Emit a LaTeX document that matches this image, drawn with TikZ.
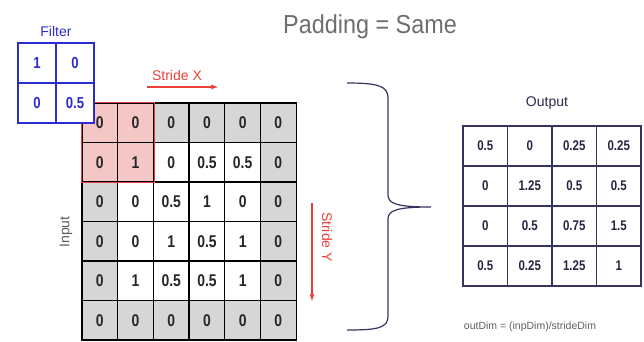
\documentclass[tikz,border=0pt]{standalone}
\usepackage{fontspec}
\setmainfont{Liberation Sans}
\newfontfamily\narrowfont[FakeStretch=0.82]{Liberation Sans}
\usetikzlibrary{fit}
\definecolor{padgray}{HTML}{D6D6D6}
\definecolor{winpink}{HTML}{F5C6C6}
\definecolor{winred}{HTML}{E8413C}
\definecolor{filtblue}{HTML}{2B2BD0}
\definecolor{outline}{HTML}{34345E}
\definecolor{txtgray}{HTML}{5E5E5E}

\begin{document}
\begin{tikzpicture}[
  x=1pt,y=-1pt,
  incell/.style={draw=black,line width=1.3pt,minimum width=35.7pt,minimum height=39.5pt,inner sep=0pt,
    font=\narrowfont\bfseries\fontsize{17}{17}\selectfont,text=black!85},
  filtcell/.style={draw=filtblue,fill=white,line width=1.3pt,minimum width=38pt,minimum height=40pt,inner sep=0pt,
    font=\narrowfont\bfseries\fontsize{16}{16}\selectfont,text=filtblue},
  outcell/.style={draw=outline,line width=1.2pt,minimum width=44.5pt,minimum height=40pt,inner sep=0pt,
    font=\narrowfont\bfseries\fontsize{14}{14}\selectfont,text=outline!70!black},
  winbox/.style={draw=winred,line width=1pt,inner sep=0pt},
  label/.style={font=\fontsize{14}{14}\selectfont,text=txtgray},
  stridelab/.style={font=\fontsize{14}{14}\selectfont,text=winred},
  stridearr/.style={draw=winred,line width=1.3pt,->,>=latex},
  brace/.style={draw=outline,line width=1.2pt},
  ]
  \useasboundingbox (0,0) rectangle (644,341);
  % title
  \node[font=\fontsize{26}{26}\selectfont,text=txtgray!90,anchor=base,
    inner sep=0pt] (title) at (370,33) {\addfontfeatures{FakeStretch=0.9}Padding = Same};
  % input with padding
  \foreach \row [count=\r] in {{0,0,0,0,0,0},{0,1,0,0.5,0.5,0},{0,0,0.5,1,0,0},
      {0,0,1,0.5,1,0},{0,1,0.5,0.5,1,0},{0,0,0,0,0,0}}
    \foreach \v [count=\c] in \row {
      \pgfmathtruncatemacro\pad{max(\r==1,\r==6,\c==1,\c==6)}
      \pgfmathtruncatemacro\win{(\r<3)*(\c<3)}
      \ifnum\win=1 \def\cellfill{winpink}\else
        \ifnum\pad=1 \def\cellfill{padgray}\else\def\cellfill{white}\fi\fi
      \node[incell,fill=\cellfill] (i\r\c) at ({82+35.7*(\c-0.5)},{103+39.5*(\r-0.5)}) {\v};
    }
  \node[winbox,fit=(i11)(i22)] (win) {};
  \node[label,rotate=90] (inlab) at (66,232) {Input};
  % filter
  \foreach \row [count=\r] in {{1,0},{0,0.5}}
    \foreach \v [count=\c] in \row
      \node[filtcell] (f\r\c) at ({18+38*(\c-0.5)},{43+40*(\r-0.5)}) {\v};
  \node[label,text=filtblue] (filtlab) at (56,31) {Filter};
  % strides
  \node[stridelab] (sxlab) at (177,75) {Stride X};
  \coordinate (sxa) at (147,87);
  \coordinate (sxb) at (218,87);
  \draw[stridearr] (sxa) -- (sxb);
  \node[stridelab,rotate=-90] (sylab) at (327,237) {Stride Y};
  \coordinate (sya) at (312,203);
  \coordinate (syb) at (312,301);
  \draw[stridearr] (sya) -- (syb);
  % brace
  \coordinate (btop) at (347,83);
  \coordinate (btip) at (431,207);
  \coordinate (bbot) at (347,330);
  \draw[brace] (btop) .. controls (378,83) and (388,86) .. (388,98) -- (388,195)
    .. controls (388,204) and (398,207) .. (btip)
    .. controls (398,207) and (388,210) .. (388,219) -- (388,316)
    .. controls (388,328) and (378,330) .. (bbot);
  % output
  \foreach \row [count=\r] in {{0.5,0,0.25,0.25},{0,1.25,0.5,0.5},{0,0.5,0.75,1.5},{0.5,0.25,1.25,1}}
    \foreach \v [count=\c] in \row
      \node[outcell] (o\r\c) at ({463+44.5*(\c-0.5)},{126+40*(\r-0.5)}) {\v};
  \node[label,text=outline!80!black] (outlab) at (547,103) {Output};
  \node[label,font=\fontsize{10.5}{10.5}\selectfont] (dimlab) at (530,327) {outDim = (inpDim)/strideDim};
\end{tikzpicture}
\end{document}
